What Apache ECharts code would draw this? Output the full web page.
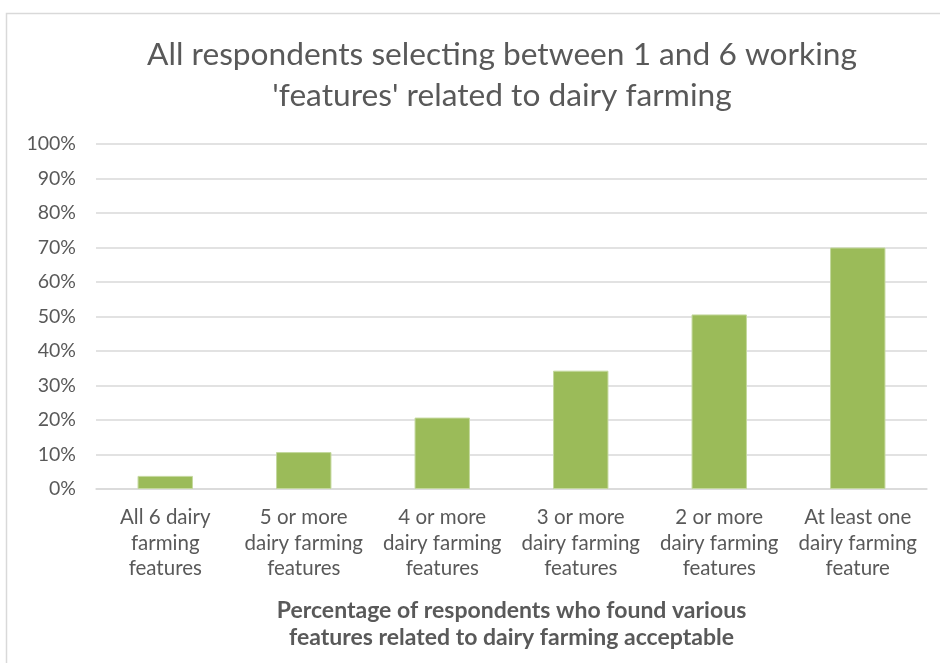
<!DOCTYPE html>
<html>
<head>
<meta charset="utf-8">
<script src="https://cdn.jsdelivr.net/npm/echarts@6/dist/echarts.min.js"></script>
<style>
html,body{margin:0;padding:0;background:#fff;}
#c{width:940px;height:663px;}
</style>
</head>
<body>
<div id="c"></div>
<script>
const titleText = "All respondents selecting between 1 and 6 working\n'features' related to dairy farming";
const xAxisTitle = "Percentage of respondents who found various\nfeatures related to dairy farming acceptable";
const categories = [
  "All 6 dairy\nfarming\nfeatures",
  "5 or more\ndairy farming\nfeatures",
  "4 or more\ndairy farming\nfeatures",
  "3 or more\ndairy farming\nfeatures",
  "2 or more\ndairy farming\nfeatures",
  "At least one\ndairy farming\nfeature"
];
const values = [3.8, 10.7, 20.7, 34.3, 50.6, 70.0];
const yTicks = [0, 10, 20, 30, 40, 50, 60, 70, 80, 90, 100];

const chart = echarts.init(document.getElementById('c'), null, {renderer: 'canvas'});
chart.setOption({
  backgroundColor: '#fff',
  animation: false,
  graphic: [{
    type: 'rect',
    shape: {x: 6.5, y: 13.5, width: 1000, height: 700},
    style: {fill: 'none', stroke: '#d9d9d9', lineWidth: 1.5},
    silent: true
  }],
  title: {
    text: titleText,
    left: 497,
    top: 29,
    textAlign: 'center',
    textStyle: {
      fontFamily: 'Lato',
      fontWeight: 'normal',
      fontSize: 31.7,
      lineHeight: 41,
      color: '#595959'
    }
  },
  grid: {left: 96, right: 13, top: 144, bottom: 174, containLabel: false},
  xAxis: {
    type: 'category',
    data: categories,
    name: xAxisTitle,
    nameLocation: 'middle',
    nameGap: 108,
    nameTextStyle: {
      fontFamily: 'Lato',
      fontWeight: 'bold',
      fontSize: 23,
      lineHeight: 27,
      color: '#595959'
    },
    axisLine: {show: true, lineStyle: {color: '#d9d9d9', width: 1.5}},
    axisTick: {show: false},
    axisLabel: {
      interval: 0,
      margin: 16,
      fontFamily: 'Lato',
      fontSize: 20.5,
      lineHeight: 25.5,
      color: '#595959'
    }
  },
  yAxis: {
    type: 'value',
    min: yTicks[0],
    max: yTicks[yTicks.length - 1],
    interval: 10,
    axisLine: {show: false},
    axisTick: {show: false},
    splitLine: {lineStyle: {color: '#d9d9d9', width: 1.5}},
    axisLabel: {
      margin: 20,
      fontFamily: 'Lato',
      fontSize: 19.5,
      color: '#595959',
      formatter: v => v + '%'
    }
  },
  series: [{
    type: 'bar',
    data: values,
    barWidth: '40%',
    itemStyle: {color: '#9bbb59', borderColor: '#c4d89e', borderWidth: 1}
  }]
});
</script>
</body>
</html>
